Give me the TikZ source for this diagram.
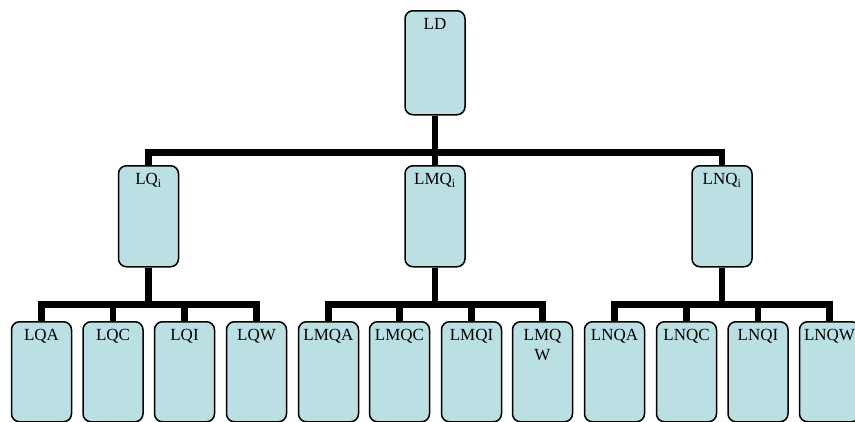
\documentclass[tikz,border=0pt]{standalone}
\usepackage{fontspec}
\setmainfont{Liberation Serif}
\definecolor{boxfill}{RGB}{186,224,228}
\tikzset{
  orgbox/.style={draw=black, line width=1.5pt, fill=boxfill, rounded corners=8pt,
    anchor=north, inner xsep=1pt, inner ysep=5pt, font=\fontsize{17}{20}\selectfont},
  conn/.style={line width=6.5pt, line join=miter, line cap=butt},
}
\newcommand{\boxtext}[2]{\parbox[t][#1][t]{58pt}{\centering\strut #2}}
\begin{document}
\begin{tikzpicture}[x=1pt,y=1pt]
\useasboundingbox (0,0) rectangle (855,-421);
\clip (0,0) rectangle (855,-421);
% top
\node[orgbox] (LD) at (435,-10) {\boxtext{94pt}{LD}};
% middle
\node[orgbox] (LQ) at (148.5,-165) {\boxtext{91pt}{LQ\textsubscript{i}}};
\node[orgbox] (LMQ) at (435,-165) {\boxtext{91pt}{LMQ\textsubscript{i}}};
\node[orgbox] (LNQ) at (722,-165) {\boxtext{91pt}{LNQ\textsubscript{i}}};
% bottom
\foreach \name/\x/\t in {LQA/41.5/LQA, LQC/113/LQC, LQI/184.5/LQI, LQW/256.5/LQW,
  LMQA/328.5/LMQA, LMQC/399.5/LMQC, LMQI/471.5/LMQI, LMQW/542.5/{LMQ\\W},
  LNQA/614.5/LNQA, LNQC/686.5/LNQC, LNQI/758/LNQI, LNQW/829.5/LNQW}
  \node[orgbox] (\name) at (\x,-321) {\boxtext{90pt}{\t}};
% connectors
\foreach \c in {LQ, LMQ, LNQ}
  \draw[conn] (LD.south) -- ++(0,-37) -| (\c.north);
\foreach \c in {LQA, LQC, LQI, LQW}
  \draw[conn] (LQ.south) -- ++(0,-37) -| (\c.north);
\foreach \c in {LMQA, LMQC, LMQI, LMQW}
  \draw[conn] (LMQ.south) -- ++(0,-37) -| (\c.north);
\foreach \c in {LNQA, LNQC, LNQI, LNQW}
  \draw[conn] (LNQ.south) -- ++(0,-37) -| (\c.north);
\end{tikzpicture}
\end{document}
